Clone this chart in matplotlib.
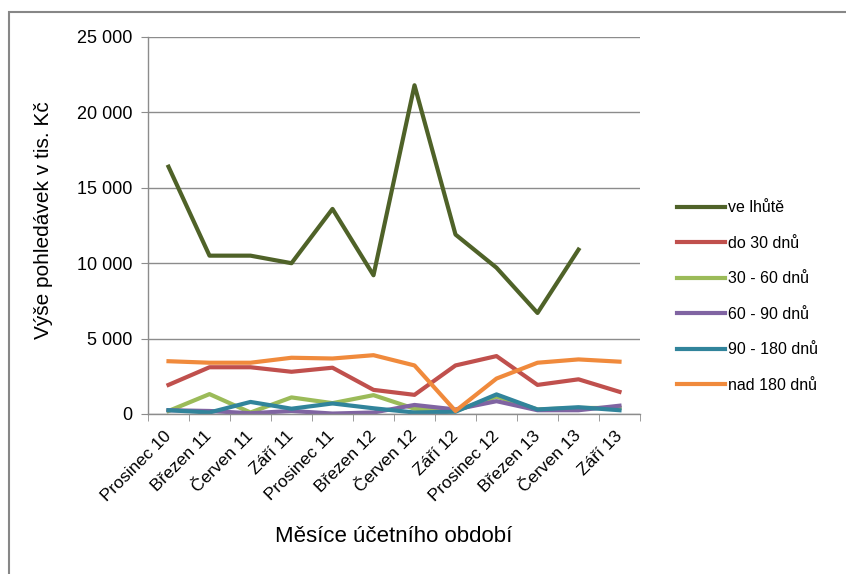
import numpy as np
import matplotlib
matplotlib.use("Agg")
import matplotlib.pyplot as plt
from matplotlib.patches import Rectangle
from matplotlib.ticker import FuncFormatter, MultipleLocator

plt.rcParams['font.family'] = ['Liberation Sans', 'DejaVu Sans']

# quarterly months of the accounting period
months = ["Prosinec 10", "Březen 11", "Červen 11", "Září 11", "Prosinec 11", "Březen 12",
          "Červen 12", "Září 12", "Prosinec 12", "Březen 13", "Červen 13", "Září 13"]

# receivables in thousands CZK by overdue bucket
ve_lhute = [16400, 10500, 10500, 10000, 13600, 9200, 21800, 11900, 9700, 6700, 10900, np.nan]
do_30 = [1930, 3100, 3100, 2800, 3070, 1600, 1270, 3220, 3840, 1930, 2300, 1470]
d30_60 = [200, 1320, 100, 1100, 720, 1250, 350, 200, 1150, 300, 400, 400]
d60_90 = [250, 200, 50, 200, 30, 100, 600, 300, 850, 250, 250, 550]
d90_180 = [250, 100, 800, 350, 700, 380, 100, 150, 1300, 300, 450, 250]
nad_180 = [3500, 3400, 3400, 3730, 3680, 3900, 3220, 200, 2350, 3400, 3620, 3470]

series = [
    ("ve lhůtě", ve_lhute, "#4F6228"),
    ("do 30 dnů", do_30, "#C0504D"),
    ("30 - 60 dnů", d30_60, "#9BBB59"),
    ("60 - 90 dnů", d60_90, "#8064A2"),
    ("90 - 180 dnů", d90_180, "#31849B"),
    ("nad 180 dnů", nad_180, "#F08A3C"),
]

fig = plt.figure(figsize=(8.46, 5.74), dpi=100)
ax = fig.add_axes([148 / 846, 1 - 414 / 574, (640 - 148) / 846, (414 - 37) / 574])

x = np.arange(len(months))
for name, vals, col in series:
    ax.plot(x, vals, color=col, lw=3, label=name, solid_joinstyle='round')

ax.set_xlim(-0.5, len(months) - 0.5)
ax.set_ylim(0, 25000)
ax.yaxis.set_major_locator(MultipleLocator(5000))
ax.yaxis.set_major_formatter(FuncFormatter(lambda v, p: f"{int(v):,}".replace(",", " ")))
ax.grid(axis='y', color='#8c8c8c', lw=1)
ax.set_axisbelow(True)

for s in ['top', 'right']:
    ax.spines[s].set_visible(False)
for s in ['left', 'bottom']:
    ax.spines[s].set_color('#8c8c8c')
    ax.spines[s].set_linewidth(1)

ax.set_xticks(x)
ax.set_xticklabels(months, rotation=45, ha='right', va='center', rotation_mode='anchor')
ax.set_xticks(np.arange(-0.5, len(months)), minor=True)
ax.tick_params(axis='x', which='major', length=0, pad=14, labelsize=12.5)
ax.tick_params(axis='x', which='minor', length=5, color='#8c8c8c')
ax.tick_params(axis='y', length=5, color='#8c8c8c', labelsize=13, pad=6)

ax.set_ylabel("Výše pohledávek v tis. Kč", fontsize=15)
ax.yaxis.set_label_coords(-0.193, 0.515)
ax.set_xlabel("Měsíce účetního období", fontsize=16, labelpad=16)

ax.legend(loc='upper left', bbox_to_anchor=(663 / 846, 1 - 186 / 574), bbox_transform=fig.transFigure,
          frameon=False, fontsize=11.5, handlelength=3.0, handletextpad=0.2, labelspacing=1.28)

# outer chart frame
fig.patches.append(Rectangle((9 / 846, -0.1), 1.2, 1 - 12 / 574 + 0.1, transform=fig.transFigure,
                             fill=False, edgecolor='#878787', lw=1.5))

fig.savefig("out.png", dpi=100)
